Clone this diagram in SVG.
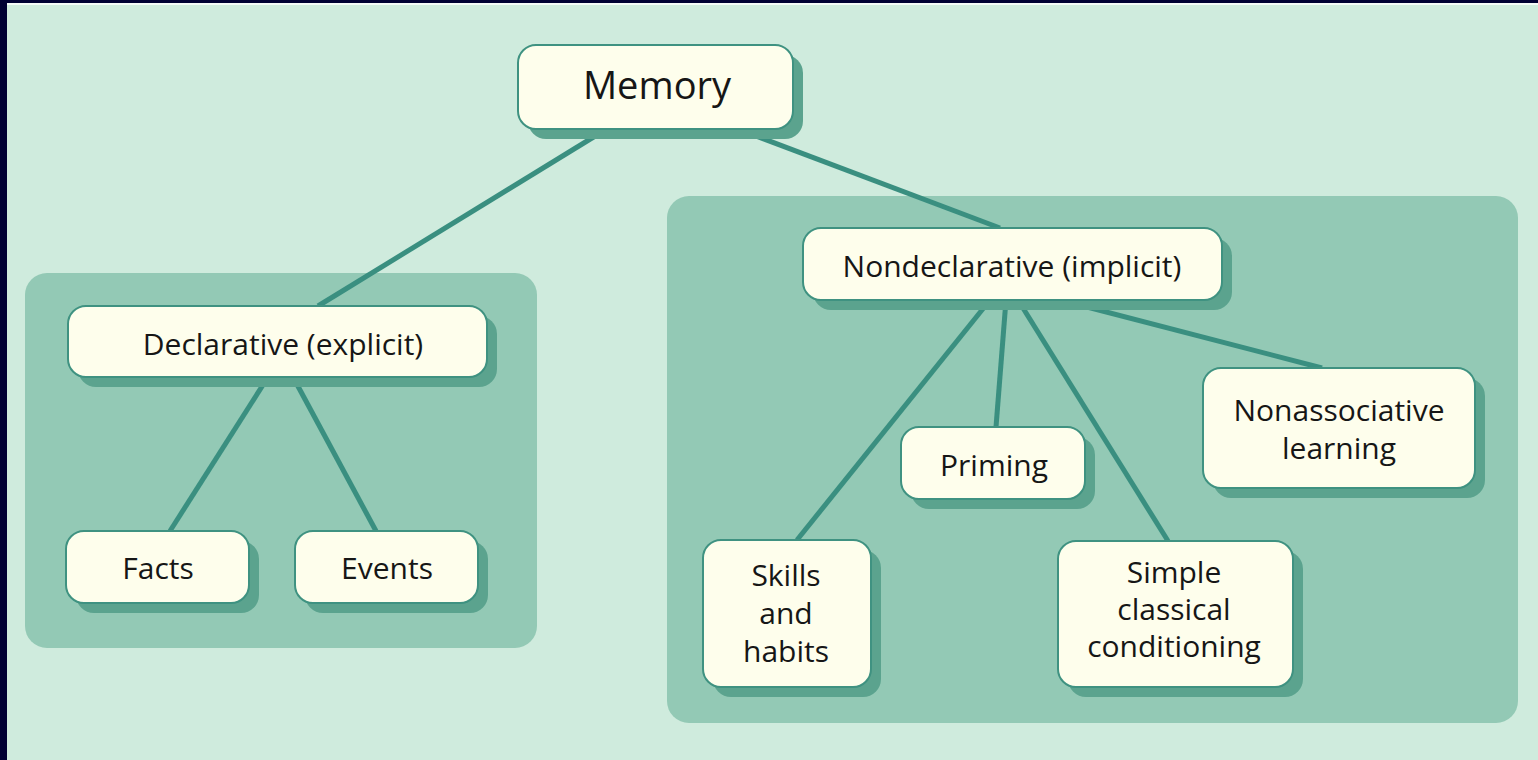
<svg xmlns="http://www.w3.org/2000/svg" width="1538" height="760" viewBox="0 0 1538 760">
<style>
.panel{fill:#93C9B5}
.shadow{fill:#5BA38E}
.box{fill:#FEFEEC;stroke:#3F9281;stroke-width:2}
.lbl{font-family:"Open Sans","Noto Sans","DejaVu Sans",sans-serif;font-size:30px;fill:#161616;text-anchor:middle}
.big{font-size:38px}
.conn line{stroke:#3A8F80;stroke-width:5;stroke-linecap:butt}
</style>
<rect x="0" y="0" width="1538" height="760" fill="#000033"/>
<rect x="7" y="3" width="1531" height="757" fill="#CFEBDD"/>
<rect x="7" y="3" width="1531" height="2" fill="#F4FBF7"/>
<rect class="panel" x="25" y="273" width="512" height="375" rx="22"/>
<rect class="panel" x="667" y="196" width="851" height="527" rx="22"/>
<g class="conn" id="connectors">
<line x1="605" y1="130" x2="318" y2="306"/>
<line x1="740" y1="130" x2="1000" y2="228"/>
<line x1="268" y1="377" x2="170" y2="531"/>
<line x1="293" y1="377" x2="376" y2="531"/>
<line x1="990" y1="300" x2="797" y2="540"/>
<line x1="1006" y1="300" x2="996" y2="427"/>
<line x1="1018" y1="300" x2="1168" y2="541"/>
<line x1="1060" y1="300" x2="1322" y2="368"/>
</g>
<g id="memory">
<rect class="shadow" x="528" y="55" width="275" height="84" rx="18"/>
<rect class="box" x="518" y="45" width="275" height="84" rx="18"/>
<text class="lbl big" x="657" y="99">Memory</text>
</g>
<g id="declarative">
<rect class="shadow" x="78" y="316" width="419" height="71" rx="18"/>
<rect class="box" x="68" y="306" width="419" height="71" rx="18"/>
<text class="lbl" x="283" y="355">Declarative (explicit)</text>
</g>
<g id="facts">
<rect class="shadow" x="76" y="541" width="183" height="72" rx="18"/>
<rect class="box" x="66" y="531" width="183" height="72" rx="18"/>
<text class="lbl" x="158" y="579">Facts</text>
</g>
<g id="events">
<rect class="shadow" x="305" y="541" width="183" height="72" rx="18"/>
<rect class="box" x="295" y="531" width="183" height="72" rx="18"/>
<text class="lbl" x="387" y="579">Events</text>
</g>
<g id="nondeclarative">
<rect class="shadow" x="813" y="238" width="419" height="72" rx="18"/>
<rect class="box" x="803" y="228" width="419" height="72" rx="18"/>
<text class="lbl" x="1012" y="277">Nondeclarative (implicit)</text>
</g>
<g id="priming">
<rect class="shadow" x="911" y="437" width="184" height="72" rx="18"/>
<rect class="box" x="901" y="427" width="184" height="72" rx="18"/>
<text class="lbl" x="994" y="476">Priming</text>
</g>
<g id="skills">
<rect class="shadow" x="713" y="550" width="168" height="147" rx="18"/>
<rect class="box" x="703" y="540" width="168" height="147" rx="18"/>
<text class="lbl" x="786" y="586">Skills</text>
<text class="lbl" x="786" y="624">and</text>
<text class="lbl" x="786" y="662">habits</text>
</g>
<g id="classical">
<rect class="shadow" x="1068" y="551" width="235" height="146" rx="18"/>
<rect class="box" x="1058" y="541" width="235" height="146" rx="18"/>
<text class="lbl" x="1174" y="583">Simple</text>
<text class="lbl" x="1174" y="620">classical</text>
<text class="lbl" x="1174" y="657">conditioning</text>
</g>
<g id="nonassociative">
<rect class="shadow" x="1213" y="378" width="272" height="120" rx="18"/>
<rect class="box" x="1203" y="368" width="272" height="120" rx="18"/>
<text class="lbl" x="1339" y="421">Nonassociative</text>
<text class="lbl" x="1339" y="459">learning</text>
</g>
</svg>
